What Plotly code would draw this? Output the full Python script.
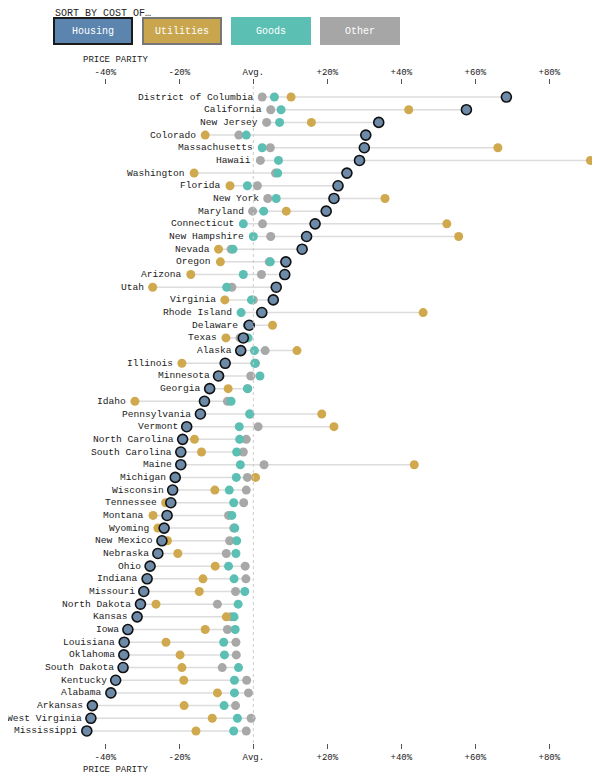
import plotly.graph_objects as go

states = [
    "District of Columbia", "California", "New Jersey", "Colorado", "Massachusetts",
    "Hawaii", "Washington", "Florida", "New York", "Maryland", "Connecticut",
    "New Hampshire", "Nevada", "Oregon", "Arizona", "Utah", "Virginia",
    "Rhode Island", "Delaware", "Texas", "Alaska", "Illinois", "Minnesota",
    "Georgia", "Idaho", "Pennsylvania", "Vermont", "North Carolina",
    "South Carolina", "Maine", "Michigan", "Wisconsin", "Tennessee", "Montana",
    "Wyoming", "New Mexico", "Nebraska", "Ohio", "Indiana", "Missouri",
    "North Dakota", "Kansas", "Iowa", "Louisiana", "Oklahoma", "South Dakota",
    "Kentucky", "Alabama", "Arkansas", "West Virginia", "Mississippi",
]

housing = [
    68.4, 57.6, 33.9, 30.4, 30.0, 28.7, 25.3, 22.9, 21.8, 19.7, 16.7, 14.4, 13.2,
    8.8, 8.5, 6.2, 5.4, 2.3, -1.1, -2.7, -3.4, -7.6, -9.4, -11.8, -13.2, -14.3,
    -18.0, -19.1, -19.6, -19.6, -21.1, -21.8, -22.3, -23.3, -24.1, -24.7, -25.8,
    -27.9, -28.7, -29.6, -30.5, -31.4, -33.9, -34.9, -35.0, -35.2, -37.2, -38.5,
    -43.5, -43.9, -45.0,
]

utilities = [
    10.2, 42.0, 15.7, -13.0, 66.1, 91.1, -16.0, -6.3, 35.6, 8.9, 52.3, 55.5, -9.4,
    -8.9, -16.9, -27.2, -7.7, 45.9, 5.2, -7.4, 11.8, -19.3, -9.0, -6.8, -32.0, 18.5,
    21.8, -15.9, -14.0, 43.5, 0.6, -10.4, -23.7, -27.1, -25.8, -23.2, -20.4, -10.3,
    -13.6, -14.6, -26.3, -7.3, -13.0, -23.6, -19.8, -19.3, -18.8, -9.7, -18.7,
    -11.1, -15.5,
]

goods = [
    5.7, 7.5, 7.1, -1.9, 2.4, 6.8, 6.6, -1.6, 6.2, 2.8, -2.7, 0.0, -5.5, 4.6, -2.7,
    -7.2, -0.5, -3.3, -1.5, -1.4, 0.3, 0.4, 1.8, -1.6, -6.0, -1.0, -3.8, -3.7, -4.5,
    -3.5, -4.6, -6.5, -5.3, -5.8, -5.0, -4.5, -4.7, -6.7, -5.2, -2.3, -4.1, -5.2,
    -4.9, -8.0, -7.8, -4.0, -5.1, -5.1, -7.9, -4.3, -5.3,
]

other = [
    2.4, 4.7, 3.6, -3.9, 4.6, 1.9, 6.0, 1.1, 3.9, -0.2, 2.5, 4.7, -6.0, 4.3, 2.2,
    -5.8, 0.0, 2.0, -1.6, -3.6, 3.2, 0.6, -0.7, -1.5, -7.0, -0.9, 1.3, -1.9, -2.7,
    2.9, -1.6, -1.9, -2.6, -6.7, -5.3, -6.4, -7.3, -2.2, -2.0, -4.8, -9.7, -6.0,
    -7.0, -4.7, -4.6, -8.4, -1.8, -1.3, -4.8, -0.6, -1.9,
]

tick_vals = [-40, -20, 0, 20, 40, 60, 80]
tick_text = ["-40%", "-20%", "Avg.", "+20%", "+40%", "+60%", "+80%"]

buttons = ["Housing", "Utilities", "Goods", "Other"]
button_colors = ["#5b84ae", "#c9a64e", "#5bbfb3", "#a6a6a6"]

MONO = "Liberation Mono"
W, H = 592, 774  # page body adds an 8px margin
rows = list(range(len(states)))

# connecting lines from lowest to highest value in each row
line_x, line_y = [], []
for i in rows:
    vals = [housing[i], utilities[i], goods[i], other[i]]
    line_x += [min(vals), max(vals), None]
    line_y += [i, i, None]

fig = go.Figure()
fig.add_trace(go.Scatter(x=line_x, y=line_y, mode="lines",
                         line=dict(color="#dcdcdc", width=1.5), hoverinfo="skip"))
fig.add_trace(go.Scatter(x=other, y=rows, mode="markers", name="Other",
                         marker=dict(size=9, color="#a8a8a8")))
fig.add_trace(go.Scatter(x=goods, y=rows, mode="markers", name="Goods",
                         marker=dict(size=9, color="#5bbfb3")))
fig.add_trace(go.Scatter(x=utilities, y=rows, mode="markers", name="Utilities",
                         marker=dict(size=9, color="#d0a94e")))
fig.add_trace(go.Scatter(x=housing, y=rows, mode="markers", name="Housing",
                         marker=dict(size=10, color="#6d8ba8",
                                     line=dict(color="#111", width=1.6))))
# dummy trace so the top axis is drawn
fig.add_trace(go.Scatter(x=[0], y=[0], xaxis="x2", mode="markers",
                         marker=dict(opacity=0), hoverinfo="skip"))

# state labels to the left of each row
for i in rows:
    lo = min(housing[i], utilities[i], goods[i], other[i])
    fig.add_annotation(x=lo, y=i, text=states[i], showarrow=False,
                       xanchor="right", yanchor="middle", xshift=-7,
                       font=dict(family=MONO, size=9.6, color="#222"))

# sort buttons
for k, (b, c) in enumerate(zip(buttons, button_colors)):
    bw = 2 if k < 2 else 0
    fig.add_annotation(xref="paper", yref="paper", x=(85 + 89 * k) / W, y=1.082,
                       xanchor="center", yanchor="middle",
                       text=b, showarrow=False, width=80 - 2 * bw, height=28 - 2 * bw,
                       bgcolor=c, bordercolor="#1a1a1a" if k == 0 else "#777",
                       borderwidth=bw, borderpad=0,
                       font=dict(family=MONO, size=10, color="white"))

fig.add_annotation(xref="paper", yref="paper", x=45 / W, y=1.1094, text="SORT BY COST OF…",
                   showarrow=False, xanchor="left", yanchor="middle",
                   font=dict(family=MONO, size=10, color="#222"))
for yy in [1.038, -0.041]:
    fig.add_annotation(xref="paper", yref="paper", x=73 / W, y=yy, text="PRICE PARITY",
                       showarrow=False, xanchor="left", yanchor="middle",
                       font=dict(family=MONO, size=9, color="#222"))

fig.add_vline(x=0, line=dict(color="#cccccc", width=1, dash="dot"))

axis_style = dict(range=[-66.3, 93.7], tickvals=tick_vals, ticktext=tick_text,
                  showgrid=False, zeroline=False, showline=False,
                  ticks="outside", ticklen=5, tickcolor="#555",
                  tickfont=dict(family=MONO, size=9, color="#222"))

fig.update_layout(
    width=W, height=H,
    margin=dict(l=0, r=0, t=77, b=39),
    plot_bgcolor="white", paper_bgcolor="white",
    showlegend=False,
    xaxis=dict(side="bottom", **axis_style),
    xaxis2=dict(side="top", overlaying="x", matches="x", **axis_style),
    yaxis=dict(range=[50.95, -0.95], visible=False),
)

fig.write_html("out.html")
